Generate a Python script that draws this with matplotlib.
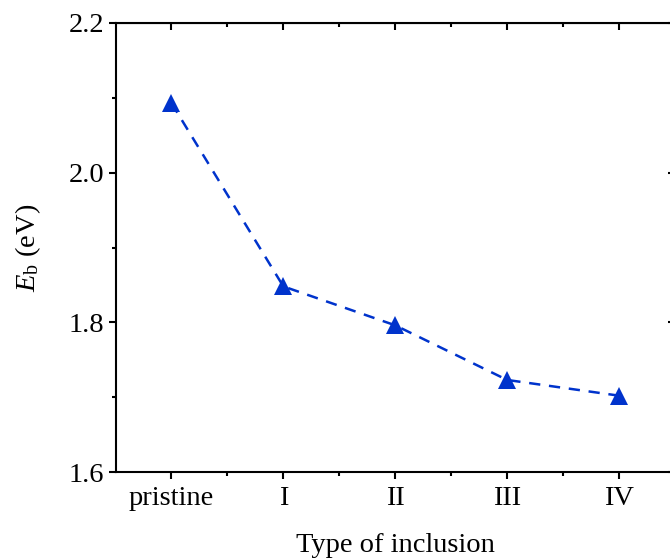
import matplotlib
matplotlib.use('Agg')
import matplotlib.pyplot as plt
from matplotlib.ticker import MultipleLocator

categories = ['pristine', 'I', 'II', 'III', 'IV']
eb_values = [2.093, 1.848, 1.796, 1.723, 1.702]

plt.rcParams['font.family'] = ['Liberation Serif', 'DejaVu Serif']
plt.rcParams['mathtext.fontset'] = 'custom'
plt.rcParams['mathtext.rm'] = 'Liberation Serif'
plt.rcParams['mathtext.it'] = 'Liberation Serif:italic'

fig = plt.figure(figsize=(6.7, 5.59), dpi=100)
ax = fig.add_axes([115.5 / 670, 1 - 472 / 559, (675 - 115.5) / 670, (472 - 23) / 559])

x = list(range(len(categories)))
ax.plot(x, eb_values, color='#0033cc', linestyle=(0, (4.5, 3.5)), linewidth=1.8,
        marker='^', markersize=13, markeredgewidth=0)

ax.set_xlim(-0.5, 4.5)
ax.set_ylim(1.6, 2.2)
ax.set_xticks(x)
ax.set_xticklabels(categories)
ax.set_xticks([0.5, 1.5, 2.5, 3.5], minor=True)
ax.set_yticks([1.6, 1.8, 2.0, 2.2])
ax.yaxis.set_minor_locator(MultipleLocator(0.1))

for s in ax.spines.values():
    s.set_linewidth(1.5)
ax.tick_params(which='major', direction='out', length=5, width=1.5, labelsize=20.5, pad=3)
ax.tick_params(which='minor', direction='out', length=3, width=1.5)
ax.tick_params(axis='x', which='major', pad=5)

# mirrored ticks pointing inward on top and right
top = ax.secondary_xaxis('top')
top.set_xticks(x)
top.set_xticks([0.5, 1.5, 2.5, 3.5], minor=True)
top.tick_params(which='major', direction='in', length=5, width=1.5, labeltop=False)
top.tick_params(which='minor', direction='in', length=3, width=1.5)
right = ax.secondary_yaxis('right')
right.set_yticks([1.6, 1.8, 2.0, 2.2])
right.yaxis.set_minor_locator(MultipleLocator(0.1))
right.tick_params(which='major', direction='in', length=5, width=1.5, labelright=False)
right.tick_params(which='minor', direction='in', length=3, width=1.5)

ax.set_xlabel('Type of inclusion', fontsize=20.5, labelpad=16)
ax.set_ylabel(r'$E_\mathrm{b}$ (eV)', fontsize=20.5)
ax.yaxis.set_label_coords(-0.13, 0.5)

fig.savefig('out.png', dpi=100)
